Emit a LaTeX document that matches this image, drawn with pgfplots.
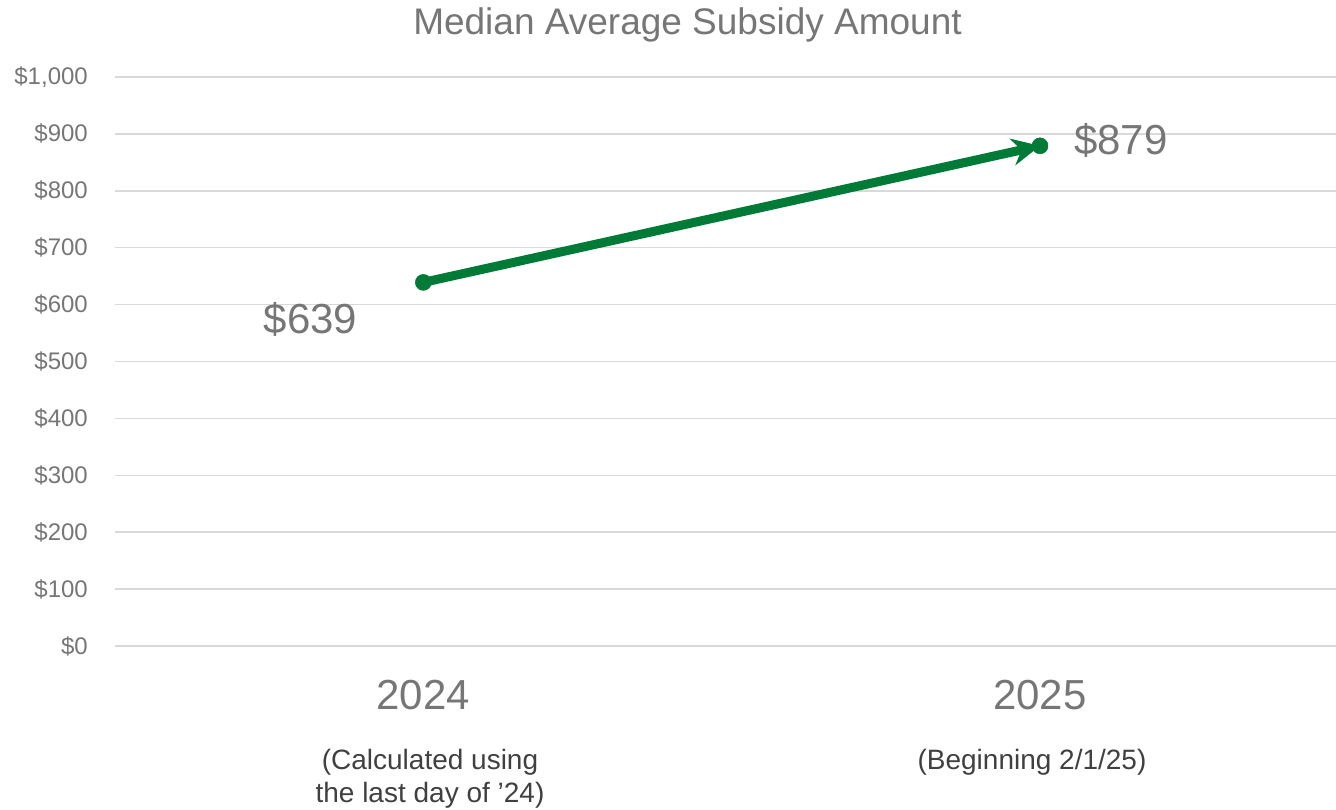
\documentclass[border=0pt]{standalone}
\usepackage{fontspec}
\setmainfont{Liberation Sans}
\usepackage{pgfplots}
\pgfplotsset{compat=1.18}
\usetikzlibrary{arrows.meta}
\definecolor{lgreen}{HTML}{007A37}
\definecolor{tgray}{HTML}{767676}
\definecolor{dgray}{HTML}{404040}
\definecolor{gridc}{HTML}{D9D9D9}
\begin{document}
\begin{tikzpicture}[x=1pt,y=1pt]
\useasboundingbox (0,0) rectangle (1336,810);
\begin{axis}[
  at={(115pt,164pt)}, anchor=south west,
  scale only axis, width=1221pt, height=569pt,
  xmin=-0.5, xmax=1.48, ymin=0, ymax=1000,
  xtick={0,1}, xticklabels={2024,2025},
  ytick={0,100,...,1000},
  ymajorgrids, major grid style={gridc, line width=1.5pt},
  axis line style={draw=none},
  major tick length=0pt,
  /pgf/number format/.cd, 1000 sep={,}, assume math mode=true, /pgfplots/.cd,
  yticklabel={\$\pgfmathprintnumber{\tick}},
  yticklabel style={font=\fontsize{24}{28}\selectfont, text=tgray, anchor=east, inner sep=0pt, xshift=-27pt},
  xticklabel style={font=\fontsize{42}{48}\selectfont, text=tgray, anchor=base, inner sep=0pt, yshift=-64pt},
  clip=false]
\addplot[lgreen, line width=9pt, mark=*, mark size=8pt,
  mark options={solid, fill=lgreen, line width=0.5pt},
  -{Stealth[length=28pt,width=27pt]}] coordinates {(0,639) (1,879)};
\node[font=\fontsize{42}{48}\selectfont, text=tgray, anchor=base] at (axis cs:-0.183,550) {\$639};
\node[font=\fontsize{42}{48}\selectfont, text=tgray, anchor=base] at (axis cs:1.131,863) {\$879};
\end{axis}
\node[font=\fontsize{37}{43}\selectfont, text=tgray, anchor=base] at (687.5,775) {Median Average Subsidy Amount};
\node[font=\fontsize{28}{33}\selectfont, text=dgray, anchor=north, align=center, inner sep=0pt] at (430,61) {(Calculated using\\the last day of ’24)};
\node[font=\fontsize{28}{33}\selectfont, text=dgray, anchor=north, align=center, inner sep=0pt] at (1032,61) {(Beginning 2/1/25)};
\end{tikzpicture}
\end{document}
